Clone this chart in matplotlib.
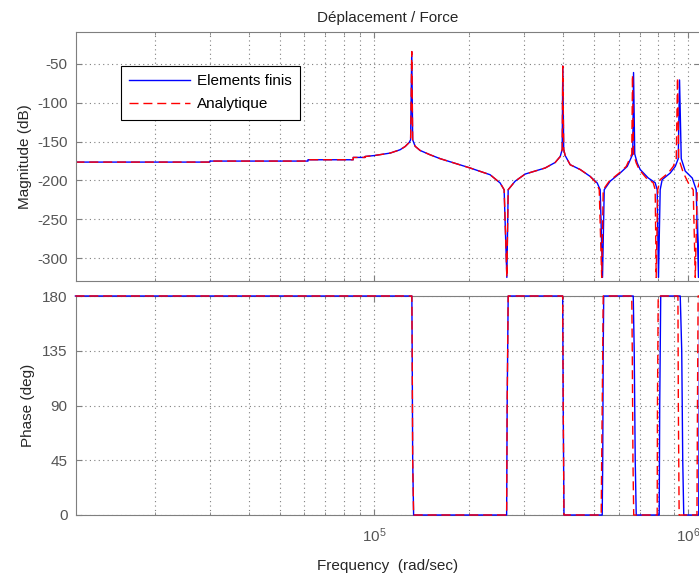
import matplotlib
matplotlib.use('Agg')
import matplotlib.pyplot as plt
import numpy as np
from matplotlib.ticker import LogLocator, NullFormatter, FixedLocator

plt.rcParams['font.family'] = ['Liberation Sans', 'DejaVu Sans']
plt.rcParams['axes.unicode_minus'] = False

# frequence (rad/s) et amplitude (dB) - elements finis
freq_ef = [1.12e4, 3.0e4, 3.0e4, 6.16e4, 6.16e4, 8.58e4, 8.58e4, 9.36e4, 9.36e4, 1.0e5,
           1.125e5, 1.21e5, 1.256e5, 1.293e5, 1.307e5, 1.318e5, 1.327e5, 1.351e5, 1.401e5,
           1.508e5, 1.623e5, 2.022e5, 2.341e5, 2.519e5, 2.594e5, 2.646e5, 2.672e5, 2.812e5,
           3.027e5, 3.504e5, 3.771e5, 3.913e5, 3.970e5, 3.987e5, 4.014e5, 4.058e5, 4.209e5,
           4.530e5, 4.875e5, 5.131e5, 5.245e5, 5.335e5, 5.402e5, 5.644e5, 6.074e5, 6.394e5,
           6.537e5, 6.657e5, 6.697e5, 6.756e5, 6.880e5, 7.032e5, 7.455e5, 7.848e5, 7.964e5,
           8.040e5, 8.141e5, 8.261e5, 8.762e5, 9.091e5, 9.293e5, 9.382e5, 9.500e5, 9.782e5,
           1.030e6, 1.060e6, 1.078e6, 1.09e6]
mag_ef = [-176.4, -176.4, -175.1, -175.1, -173.4, -173.4, -170.4, -170.4, -169.2, -168,
          -164.8, -160.5, -156.3, -151.2, -147.7, -34, -147.7, -156, -161.4,
          -167, -172, -184, -192.7, -203.3, -212, -325, -212, -201,
          -191.8, -184, -176.9, -169.2, -160, -52.6, -160, -168, -179.8,
          -186, -194.9, -203.3, -212, -325, -212, -201, -190.4, -182,
          -173.4, -166, -61, -166, -177.6, -186, -196.8, -203, -212,
          -325, -212, -199, -190.5, -182, -172, -70.6, -172, -188,
          -197, -212, -325, -212]

# analytique
freq_an = [1.12e4, 3.0e4, 3.0e4, 6.16e4, 6.16e4, 8.58e4, 8.58e4, 9.36e4, 9.36e4, 1.0e5,
           1.125e5, 1.21e5, 1.256e5, 1.293e5, 1.307e5, 1.318e5, 1.327e5, 1.351e5, 1.401e5,
           1.508e5, 1.623e5, 2.022e5, 2.341e5, 2.519e5, 2.594e5, 2.646e5, 2.672e5, 2.812e5,
           3.027e5, 3.504e5, 3.771e5, 3.913e5, 3.970e5, 3.987e5, 4.014e5, 4.058e5, 4.209e5,
           4.530e5, 4.875e5, 5.1e5, 5.208e5, 5.303e5, 5.362e5, 5.603e5, 6.030e5, 6.347e5,
           6.489e5, 6.610e5, 6.647e5, 6.697e5, 6.830e5, 6.982e5, 7.346e5, 7.735e5, 7.848e5,
           7.906e5, 7.994e5, 8.141e5, 8.635e5, 8.958e5, 9.158e5, 9.245e5, 9.327e5, 9.640e5,
           1.007e6, 1.037e6, 1.053e6, 1.068e6, 1.09e6]
mag_an = [-176.4, -176.4, -175.1, -175.1, -173.4, -173.4, -170.4, -170.4, -169.2, -168,
          -164.8, -160.5, -156.3, -151.2, -147.7, -34, -147.7, -156, -161.4,
          -167, -172, -184, -192.7, -203.3, -212, -325, -212, -201,
          -191.8, -184, -176.9, -169.2, -160, -52.6, -160, -168, -179.8,
          -186, -194.9, -203.3, -212, -325, -212, -201, -190.4, -182,
          -173.4, -166, -64, -166, -177.6, -186, -196.8, -203, -212,
          -325, -212, -199, -190.5, -182, -172, -67.6, -172, -190,
          -205.5, -212, -325, -212, -200]

# phase (deg)
fph_ef = [1.12e4, 1.319e5, 1.322e5, 1.327e5, 1.336e5, 2.642e5, 2.652e5, 2.672e5,
          3.984e5, 3.999e5, 4.022e5, 5.323e5, 5.343e5, 5.362e5, 5.382e5,
          6.682e5, 6.730e5, 6.780e5, 6.830e5, 8.083e5, 8.113e5, 8.173e5,
          9.430e5, 9.534e5, 9.604e5, 9.676e5, 1.080e6, 1.087e6, 1.09e6]
ph_ef = [180, 180, 135, 45, 0, 0, 90, 180,
         180, 90, 0, 0, 45, 135, 180,
         180, 135, 45, 0, 0, 90, 180,
         180, 135, 45, 0, 0, 180, 180]

fph_an = [1.12e4, 1.319e5, 1.322e5, 1.327e5, 1.336e5, 2.642e5, 2.652e5, 2.672e5,
          3.984e5, 3.999e5, 4.022e5, 5.284e5, 5.302e5, 5.323e5, 5.362e5,
          6.610e5, 6.635e5, 6.668e5, 6.706e5, 7.964e5, 7.98e5, 8.024e5,
          9.272e5, 9.30e5, 9.355e5, 1.066e6, 1.070e6, 1.075e6, 1.09e6]
ph_an = [180, 180, 135, 45, 0, 0, 90, 180,
         180, 90, 0, 0, 45, 90, 180,
         180, 135, 45, 0, 0, 90, 180,
         180, 90, 0, 0, 90, 180, 180]

xlim = (1.125e4, 1.09e6)
grey = '#7f7f7f'
txt = '#262626'
tick_col = '#555555'
fs = 11

fig = plt.figure(figsize=(6.99, 5.78), dpi=100)
ax1 = fig.add_axes([76/699, 1-281/578, 624/699, 249/578])
ax2 = fig.add_axes([76/699, 1-515/578, 624/699, 219/578])

ax1.plot(freq_ef, mag_ef, color='#0000ff', lw=1.0, label='Elements finis')
ax1.plot(freq_an, mag_an, color='#ff0000', lw=1.0, dashes=(6.5, 3.5), label='Analytique')
ax2.plot(fph_ef, ph_ef, color='#0000ff', lw=1.0, clip_on=False, zorder=3)
ax2.plot(fph_an, ph_an, color='#ff0000', lw=1.0, dashes=(6.5, 3.5), clip_on=False, zorder=3)

for ax in (ax1, ax2):
    ax.set_xscale('log')
    ax.set_xlim(*xlim)
    ax.xaxis.set_major_locator(LogLocator(base=10))
    ax.xaxis.set_minor_locator(LogLocator(base=10, subs=np.arange(2, 10)))
    ax.xaxis.set_minor_formatter(NullFormatter())
    ax.grid(True, which='both', axis='x', color=grey, linestyle=(0, (1, 3)), lw=0.8)
    ax.grid(True, which='major', axis='y', color=grey, linestyle=(0, (1, 3)), lw=0.8)
    ax.tick_params(which='both', direction='in', top=True, right=True,
                   colors=grey, labelcolor=tick_col, labelsize=fs)
    ax.tick_params(which='major', length=4)
    ax.tick_params(which='minor', length=2.5)
    ax.tick_params(axis='y', pad=6)
    ax.tick_params(axis='x', pad=8)
    for s in ax.spines.values():
        s.set_color(grey)

ax1.set_ylim(-329.6, -8.8)
ax1.yaxis.set_major_locator(FixedLocator([-300, -250, -200, -150, -100, -50]))
ax1.tick_params(axis='x', which='both', labelbottom=False)
ax1.set_ylabel('Magnitude (dB)', color=txt, fontsize=fs, labelpad=4)
ax1.set_title('Déplacement / Force', color=txt, fontsize=fs, pad=7)

ax2.set_ylim(0, 180)
ax2.yaxis.set_major_locator(FixedLocator([0, 45, 90, 135, 180]))
ax2.set_ylabel('Phase (deg)', color=txt, fontsize=fs, labelpad=5)
ax2.set_xlabel('Frequency  (rad/sec)', color=txt, fontsize=fs, labelpad=10)

leg = ax1.legend(loc='upper left', bbox_to_anchor=((120.7-76)/624, (281-65.7)/249),
                 fancybox=False, edgecolor='black', framealpha=1, fontsize=fs,
                 handlelength=4.0, handletextpad=0.45, borderpad=0.55,
                 labelspacing=0.6, borderaxespad=0)
leg.get_frame().set_linewidth(0.8)

fig.savefig('out.png', dpi=100)
